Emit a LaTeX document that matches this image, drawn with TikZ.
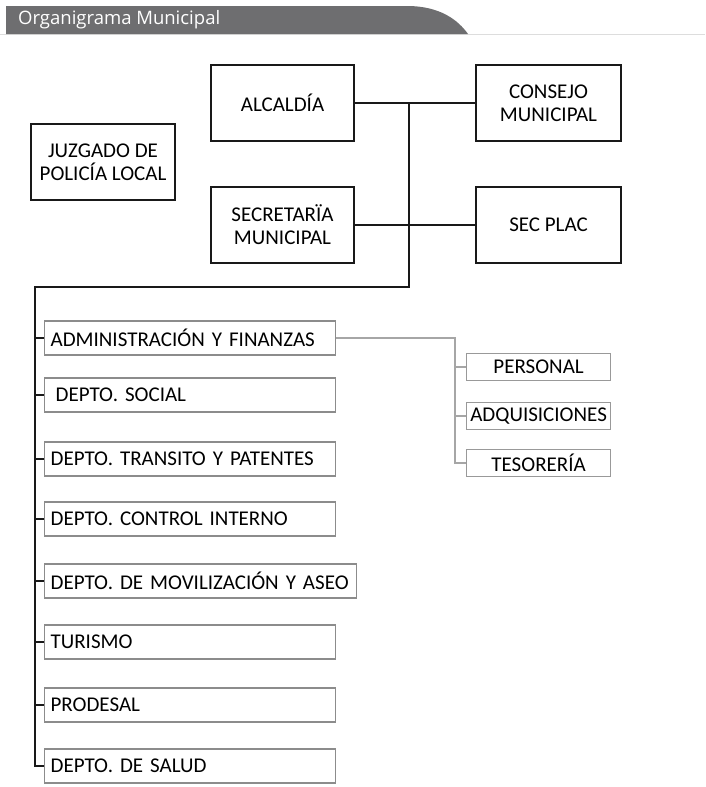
\documentclass[tikz,border=0pt]{standalone}
\usepackage{fontspec}
\setmainfont{Carlito}
\newfontfamily\headfont{Open Sans}
\definecolor{tabgray}{HTML}{6E6E70}
\definecolor{rulegray}{HTML}{DDDDDD}
\begin{document}
\begin{tikzpicture}[x=1pt,y=-1pt,
	boxfont/.style={font=\fontsize{21}{23}\selectfont},
	topbox/.style={boxfont,draw=black!90,line width=2pt,inner sep=0pt,align=center,minimum height=76pt},
	deptbox/.style={boxfont,draw=black!45,line width=1.2pt,anchor=west,inner xsep=6pt,inner ysep=0pt,minimum height=34pt,text width=#1,align=left},
	subbox/.style={boxfont,draw=black!40,line width=1.2pt,anchor=west,inner sep=0pt,minimum width=144pt,minimum height=27pt},
	mainline/.style={line width=2pt,black!90},
	subline/.style={line width=2pt,black!35}]
	\useasboundingbox (0,0) rectangle (705,787);
	
	% header tab
	\draw[rulegray,line width=1.5pt] (0,34.5) -- (705,34.5);
	\fill[tabgray] (6,6) -- (407,6) .. controls (440,6) and (458,20) .. (468,34) -- (6,34) -- cycle;
	\node[anchor=west,text=white,inner sep=0pt,font=\headfont\fontsize{18.5}{21}\selectfont] (title) at (18,20) {Organigrama Municipal};
	
	% top level
	\node[topbox,minimum width=143pt] (alcaldia) at (282.5,103) {ALCALDÍA};
	\node[topbox,minimum width=145pt] (consejo) at (548.5,103) {CONSEJO\\MUNICIPAL};
	\node[topbox,minimum width=143pt] (secretaria) at (282.5,225) {SECRETARÏA\\MUNICIPAL};
	\node[topbox,minimum width=145pt] (secplac) at (548.5,225) {SEC PLAC};
	\node[topbox,minimum width=144pt] (juzgado) at (103,162) {JUZGADO DE\\POLICÍA LOCAL};
	
	\coordinate (hub) at (409,103);
	\coordinate (bend) at (409,287);
	\coordinate (corner) at (35,287);
	
	% departments
	\foreach \name/\y/\w/\txt in {admin/338/279/ADMINISTRACIÓN Y FINANZAS,
		social/395/279/\hspace{5pt}DEPTO. SOCIAL,
		transito/459/279/DEPTO. TRANSITO Y PATENTES,
		control/519/279/DEPTO. CONTROL INTERNO,
		movil/581/300/DEPTO. DE MOVILIZACIÓN Y ASEO,
		turismo/642/279/TURISMO,
		prodesal/705/279/PRODESAL,
		salud/766/279/DEPTO. DE SALUD}{%
		\node[deptbox=\w pt] (\name) at (44,\y) {\txt};
	}
	
	% sections of administracion
	\node[subbox] (personal) at (466,367) {PERSONAL};
	\node[subbox] (adquisiciones) at (466,416) {ADQUISICIONES};
	\node[subbox] (tesoreria) at (466,463) {TESORERÍA};
	\coordinate (subhub) at (455,338);
	
	\draw[mainline] (alcaldia.east) -- (consejo.west);
	\draw[mainline] (secretaria.east) -- (secplac.west);
	\draw[mainline] (hub) -- (bend) -- (corner) |- (salud.west);
	\foreach \name in {admin,social,transito,control,movil,turismo,prodesal}
		\draw[mainline] (corner |- \name.west) -- (\name.west);
	
	\draw[subline] (admin.east) -- (subhub) |- (tesoreria.west);
	\draw[subline] (subhub |- personal.west) -- (personal.west);
	\draw[subline] (subhub |- adquisiciones.west) -- (adquisiciones.west);
	
\end{tikzpicture}
\end{document}
